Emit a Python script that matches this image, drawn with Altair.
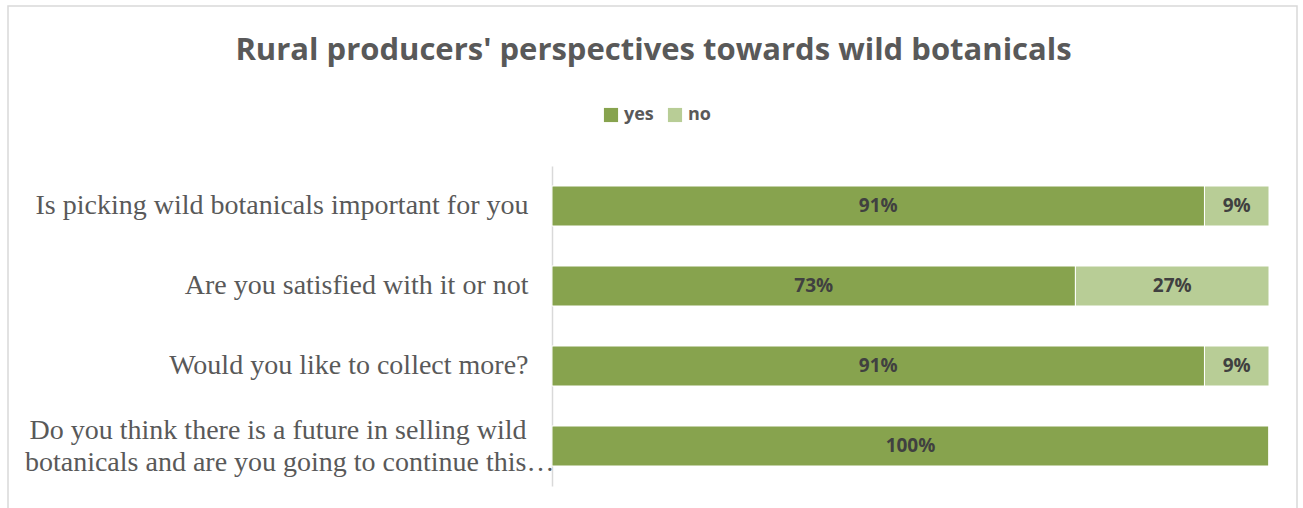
import altair as alt
import pandas as pd

questions = [
    "Is picking wild botanicals important for you",
    "Are you satisfied with it or not",
    "Would you like to collect more?",
    "Do you think there is a future in selling wild|botanicals and are you going to continue this\u2026",
]
yes_values = [91, 73, 91, 100]
no_values = [9, 27, 9, 0]
series = ["yes", "no"]
colors = ["#87a34e", "#b8cd96"]

rows = []
for q, y, n in zip(questions, yes_values, no_values):
    rows.append({"question": q, "answer": "yes", "order": 0, "value": y, "start": 0, "end": y})
    rows.append({"question": q, "answer": "no", "order": 1, "value": n, "start": y, "end": y + n})
df = pd.DataFrame(rows)
df["mid"] = (df["start"] + df["end"]) / 2
df["label"] = df["value"].astype(str) + "%"

nb = "\u00a0" * 4 + "\u200b"
wrapped = "indexof(datum.value, '|') >= 0"

yenc = alt.Y(
    "question:N",
    sort=questions,
    title=None,
    scale=alt.Scale(paddingInner=0.5, paddingOuter=0.25),
    axis=alt.Axis(
        labelExpr=(
            "indexof(datum.label, '|') >= 0 ? "
            "[split(datum.label, '|')[0] + '" + nb + "', split(datum.label, '|')[1]] : datum.label"
        ),
        labelFont="Liberation Serif",
        labelFontSize=28,
        labelColor="#595959",
        labelPadding={"condition": {"test": wrapped, "value": -2}, "value": 24},
        labelOffset={"condition": {"test": wrapped, "value": -15}, "value": 0},
        labelLineHeight=32,
        labelLimit=700,
        ticks=False,
        domainColor="#d9d9d9",
        domainWidth=1.5,
        grid=False,
    ),
)

bars = alt.Chart(df).mark_bar(stroke="white", strokeWidth=1).encode(
    x=alt.X("start:Q", scale=alt.Scale(domain=[0, 100], nice=False), axis=None),
    x2="end:Q",
    y=yenc,
    color=alt.Color(
        "answer:N",
        scale=alt.Scale(domain=series, range=colors),
        sort=series,
        legend=alt.Legend(
            title=None,
            orient="none",
            direction="horizontal",
            legendX=50,
            legendY=-60,
            symbolType="square",
            symbolSize=200,
            symbolStrokeWidth=0,
            labelFont="Open Sans",
            labelFontWeight="bold",
            labelFontSize=18,
            labelColor="#595959",
            columnPadding=12,
        ),
    ),
)

text = alt.Chart(df).transform_filter("datum.value > 0").mark_text(
    font="Open Sans", fontWeight="bold", fontSize=19, color="#404040"
).encode(
    x=alt.X("mid:Q", scale=alt.Scale(domain=[0, 100], nice=False), axis=None),
    y=alt.Y("question:N", sort=questions),
    text="label:N",
)

border = alt.Chart(pd.DataFrame({"k": [0]})).mark_rect(
    fill=None, stroke="#d9d9d9", strokeWidth=1.5
).encode(
    x=alt.value(-544), x2=alt.value(745), y=alt.value(-160), y2=alt.value(360)
)

chart = alt.layer(border, bars, text).properties(
    width=717,
    height=320,
    title=alt.TitleParams(
        "Rural producers' perspectives towards wild botanicals",
        font="Open Sans",
        fontWeight="bold",
        fontSize=31,
        color="#595959",
        anchor="middle",
        dx=-257,
        offset=-62,
    ),
    autosize=alt.AutoSizeParams(type="none"),
    padding={"left": 552, "top": 166, "right": 34, "bottom": 22},
).configure(background="white").configure_view(stroke=None)

chart.save("out.html", embed_options={"renderer": "svg", "actions": False})
